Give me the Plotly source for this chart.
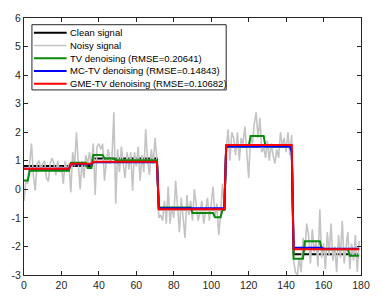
import numpy as np
import plotly.graph_objects as go

# ---------------- data ----------------
N = 180
x_vals = list(range(N))

# clean signal: piecewise-constant (segment lengths, levels)
clean_len = [37, 35, 36, 36, 36]
clean_lvl = [0.82, 1.08, -0.70, 1.50, -2.27]

# noisy signal
noisy_vals = [
    -0.4, 0.3, 0.2, 1.0, 1.6, 0.5, -0.05, 0.9, 1.0, 0.7,
    0.9, 1.0, 0.4, 0.28, 0.9, 1.1, 0.9, 0.5, 1.0, 0.6,
    0.8, 0.2, 1.0, 0.6, 0.9, -0.1, 1.3, 0.8, 2.0, 0.9,
    0.0, 1.0, 0.4, 1.2, 0.9, 1.3,
    0.8, 1.6, -0.2, 1.5, 1.6, 1.4, 1.6, 0.3, 1.0, 1.4,
    0.9, 1.1, 2.7, -0.5, 1.4, 0.6, 1.5, 0.9, 0.4, 1.3,
    0.7, 1.3, -0.05, 1.3, 0.8, 1.5, 0.3, 1.2, 0.6, 2.1,
    1.0, 0.5, 1.4, 0.9, 1.8, 1.0,
    -1.0, -0.9, -1.1, -0.4, -1.2, 0.1, -1.2, -0.6, -1.0, 0.3,
    -0.5, -1.5, -0.3, -1.0, -1.7, -0.2, -0.9, -0.4, -1.1, 0.0,
    -0.6, -1.1, -0.8, -0.4, -1.2, -0.7, -0.3, -1.1, -0.6, 0.1,
    -1.0, -0.5, -1.6, -0.9, 0.2, -0.6,
    1.4, 2.1, 1.0, 2.0, 1.8, 1.2, 2.0, 1.0, 1.8, 1.6,
    2.2, 1.4, 0.4, 1.9, 1.6, 2.3, 2.7, 1.8, 2.5, 1.3,
    1.5, 1.1, 1.7, 1.0, 1.6, 1.2, 0.9, 1.4, 1.1, 2.0,
    1.5, 1.8, 1.3, 2.0, 1.2, 1.9,
    -2.5, -2.9, -3.0, -2.4, -2.9, -1.7, -2.2, -1.2, -1.6, -2.6,
    -1.4, -2.2, -1.8, -2.7, -0.7, -2.4, -1.9, -2.8, -1.5, -2.3,
    -1.2, -2.5, -2.0, -2.9, -1.6, -2.4, -1.1, -2.6, -2.0, -1.5,
    -2.8, -1.9, -2.5, -1.6, -2.9, -1.8,
]

# TV denoising (segment lengths, levels)
tv_len = [3, 22, 9, 3, 6, 6, 23, 18, 12, 4, 2, 13, 8, 15, 6, 9, 15, 6]
tv_lvl = [0.31, 0.65, 0.93, 0.75, 1.20, 1.08, 1.02, -0.64, -0.83, -0.98, -0.72,
          1.50, 1.87, 1.50, -2.43, -1.82, -2.10, -2.33]

# MC-TV denoising
mc_len = [25, 12, 35, 36, 35, 1, 16, 20]
mc_lvl = [0.72, 0.88, 0.95, -0.66, 1.50, 1.30, -2.05, -2.08]

# GME-TV denoising
gme_len = [25, 12, 35, 36, 36, 36]
gme_lvl = [0.72, 0.90, 0.97, -0.70, 1.55, -2.10]

labels = [
    "Clean signal",
    "Noisy signal",
    "TV denoising (RMSE=0.20641)",
    "MC-TV denoising (RMSE=0.14843)",
    "GME-TV denoising (RMSE=0.10682)",
]

x_ticks = [0, 20, 40, 60, 80, 100, 120, 140, 160, 180]
y_ticks = [-3, -2, -1, 0, 1, 2, 3, 4, 5, 6]
y_tick_text = ["-3", "-2", "-1", "0", "1", "2", "3", "4", "5", "6"]

# ---------------- build ----------------
def expand(lengths, levels):
    return np.repeat(np.array(levels, dtype=float), lengths)

series = [
    expand(clean_len, clean_lvl),
    np.array(noisy_vals, dtype=float),
    expand(tv_len, tv_lvl),
    expand(mc_len, mc_lvl),
    expand(gme_len, gme_lvl),
]
colors = ["#000000", "#c4c4c4", "#0a8a0a", "#0000ff", "#ff0000"]
widths = [2.0, 1.6, 2.0, 2.0, 2.0]

fig = go.Figure()
for ys, lab, c, w in zip(series, labels, colors, widths):
    fig.add_trace(go.Scatter(x=x_vals, y=ys, mode="lines", name=lab,
                             line=dict(color=c, width=w), showlegend=False))

W, H = 382, 303
L, R, T, B = 24, 18, 12, 23
pw, ph = W - L - R, H - T - B

def px(xp):
    return (xp - L) / pw

def py(yp):
    return (H - B - yp) / ph

axcol = "#262626"
font_family = "Liberation Sans, Arial, sans-serif"

# manual legend (MATLAB style)
shapes = [dict(type="rect", xref="paper", yref="paper",
               x0=px(32), x1=px(228), y0=py(87), y1=py(19),
               line=dict(color=axcol, width=1), fillcolor="white", layer="above")]
annotations = []
for i, (lab, c, w) in enumerate(zip(labels, colors, widths)):
    yy = py(27.3 + 13.3 * i)
    shapes.append(dict(type="line", xref="paper", yref="paper",
                       x0=px(34), x1=px(67), y0=yy, y1=yy,
                       line=dict(color=c, width=w), layer="above"))
    annotations.append(dict(xref="paper", yref="paper", x=px(68.5), y=yy,
                            text=lab, showarrow=False, xanchor="left",
                            yanchor="middle",
                            font=dict(size=9.5, color="#000000", family=font_family)))

fig.update_layout(
    width=W, height=H,
    margin=dict(l=L, r=R, t=T, b=B, pad=0),
    paper_bgcolor="white", plot_bgcolor="white",
    font=dict(family=font_family, size=10, color=axcol),
    shapes=shapes, annotations=annotations,
    showlegend=False,
)
fig.update_xaxes(range=[0, 180], tickvals=x_ticks, ticks="inside", ticklen=4,
                 tickcolor=axcol, showline=True, linecolor=axcol, linewidth=1,
                 mirror="ticks", showgrid=False, zeroline=False,
                 tickfont=dict(size=10.5, color=axcol))
fig.update_yaxes(range=[-3, 6], tickvals=y_ticks, ticktext=y_tick_text,
                 ticks="inside", ticklen=4, tickcolor=axcol, showline=True,
                 linecolor=axcol, linewidth=1, mirror="ticks", showgrid=False,
                 zeroline=False, tickfont=dict(size=10.5, color=axcol))

fig.write_html("out.html", config={"displayModeBar": False},
               post_script="document.body.style.margin='0';document.body.style.overflow='hidden';")
